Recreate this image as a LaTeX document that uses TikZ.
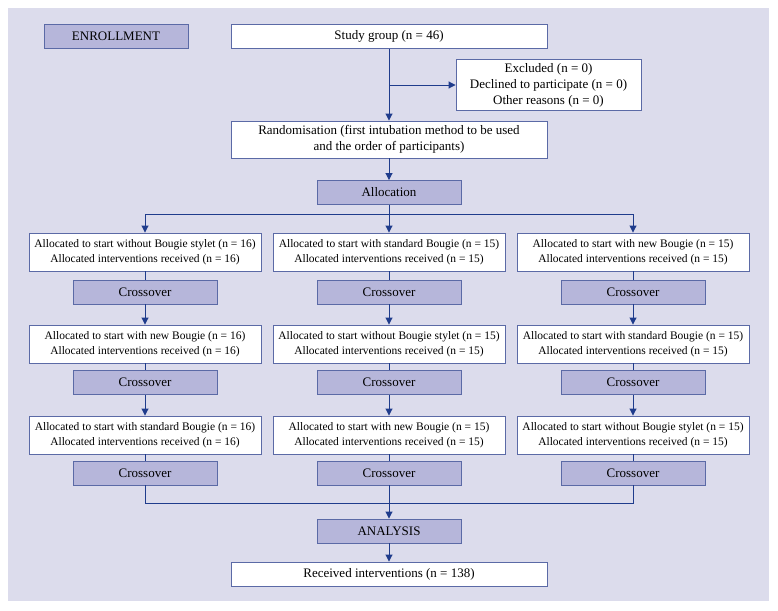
\documentclass[tikz,border=0pt]{standalone}
\usepackage{fontspec}
\setmainfont{Liberation Serif}
\usetikzlibrary{arrows.meta}
\definecolor{bgpanel}{HTML}{DCDCEC}
\definecolor{darkbox}{HTML}{B6B6DA}
\definecolor{boxline}{HTML}{5B6AA6}
\definecolor{arrowline}{HTML}{1F3C8C}
\tikzset{
  whitebox/.style={draw=boxline, fill=white, line width=0.9pt, align=center, inner sep=0pt, font=\fontsize{13}{16}\selectfont},
  armbox/.style={whitebox, minimum width=232pt, minimum height=38pt, font=\fontsize{11.5}{15}\selectfont},
  stagebox/.style={draw=boxline, fill=darkbox, line width=0.9pt, minimum width=144pt, minimum height=24pt, inner sep=0pt, font=\fontsize{13}{16}\selectfont},
  flow/.style={draw=arrowline, line width=0.9pt, -{Triangle[width=7pt,length=7pt]}},
  link/.style={draw=arrowline, line width=0.9pt},
}
\begin{document}
\begin{tikzpicture}[x=1pt,y=-1pt]
                \useasboundingbox (0,0) rectangle (778,610);
                \fill[bgpanel] (8,8) rectangle (769,601);
                % top part
                \node[stagebox](enroll) at (116,36.5){ENROLLMENT};
                \node[whitebox, minimum width=316pt, minimum height=24pt](study) at (389,36.5){Study group (n = 46)};
                \node[whitebox, minimum width=185pt, minimum height=51pt](excl) at (548.5,85){Excluded (n = 0)\\Declined to participate (n = 0)\\Other reasons (n = 0)};
                \node[whitebox, minimum width=316pt, minimum height=37pt](rand) at (389,139.5){Randomisation (first intubation method to be used\\and the order of participants)};
                \node[stagebox](alloc) at (389,192.5){Allocation};
                % three arms
                \node[armbox](a1) at (145,252){Allocated to start without Bougie stylet (n = 16)\\Allocated interventions received (n = 16)};
                \node[armbox](b1) at (389,252){Allocated to start with standard Bougie (n = 15)\\Allocated interventions received (n = 15)};
                \node[armbox](c1) at (633,252){Allocated to start with new Bougie (n = 15)\\Allocated interventions received (n = 15)};
                \node[stagebox](xa1) at (145,292){Crossover};
                \node[stagebox](xb1) at (389,292){Crossover};
                \node[stagebox](xc1) at (633,292){Crossover};
                \node[armbox](a2) at (145,344){Allocated to start with new Bougie (n = 16)\\Allocated interventions received (n = 16)};
                \node[armbox](b2) at (389,344){Allocated to start without Bougie stylet (n = 15)\\Allocated interventions received (n = 15)};
                \node[armbox](c2) at (633,344){Allocated to start with standard Bougie (n = 15)\\Allocated interventions received (n = 15)};
                \node[stagebox](xa2) at (145,382.5){Crossover};
                \node[stagebox](xb2) at (389,382.5){Crossover};
                \node[stagebox](xc2) at (633,382.5){Crossover};
                \node[armbox](a3) at (145,435){Allocated to start with standard Bougie (n = 16)\\Allocated interventions received (n = 16)};
                \node[armbox](b3) at (389,435){Allocated to start with new Bougie (n = 15)\\Allocated interventions received (n = 15)};
                \node[armbox](c3) at (633,435){Allocated to start without Bougie stylet (n = 15)\\Allocated interventions received (n = 15)};
                \node[stagebox](xa3) at (145,473){Crossover};
                \node[stagebox](xb3) at (389,473){Crossover};
                \node[stagebox](xc3) at (633,473){Crossover};
                % bottom part
                \node[stagebox](analysis) at (389,531){ANALYSIS};
                \node[whitebox, minimum width=316pt, minimum height=24pt](recv) at (389,574){Received interventions (n = 138)};
                \coordinate (split) at (389,85);
                \coordinate (branch) at (389,214);
                \coordinate (merge) at (389,503);
                % connectors
                \path[flow] (study) -- (rand);
                \path[flow] (split) -- (excl.west);
                \path[flow] (rand) -- (alloc);
                \path[flow] (alloc) -- (b1);
                \path[flow] (branch) -| (a1.north);
                \path[flow] (branch) -| (c1.north);
                \path[link] (a1) -- (xa1);
                \path[link] (b1) -- (xb1);
                \path[link] (c1) -- (xc1);
                \path[flow] (xa1) -- (a2);
                \path[flow] (xb1) -- (b2);
                \path[flow] (xc1) -- (c2);
                \path[link] (a2) -- (xa2);
                \path[link] (b2) -- (xb2);
                \path[link] (c2) -- (xc2);
                \path[flow] (xa2) -- (a3);
                \path[flow] (xb2) -- (b3);
                \path[flow] (xc2) -- (c3);
                \path[link] (a3) -- (xa3);
                \path[link] (b3) -- (xb3);
                \path[link] (c3) -- (xc3);
                \path[link] (xa3) |- (merge);
                \path[link] (xc3) |- (merge);
                \path[flow] (xb3) -- (analysis);
                \path[flow] (analysis) -- (recv);
                \end{tikzpicture}
\end{document}
